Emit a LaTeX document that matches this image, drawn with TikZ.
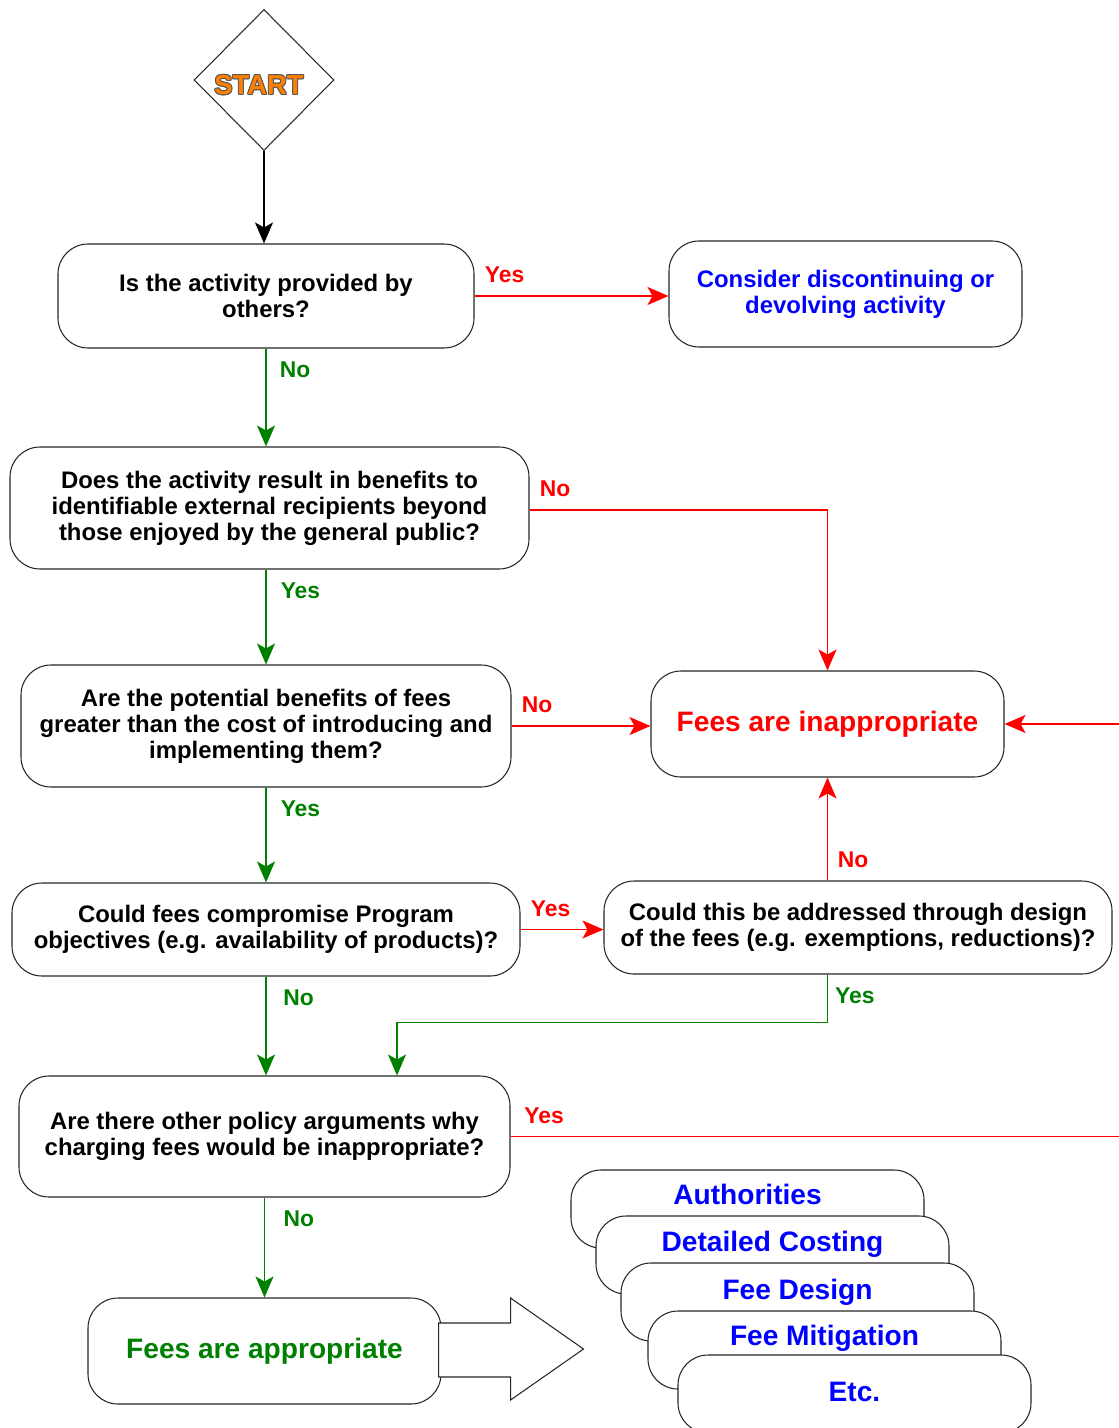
\documentclass[tikz,border=0pt]{standalone}
\usepackage{fontspec}
\setmainfont{Liberation Sans}
\usetikzlibrary{shapes.geometric, arrows.meta, calc}

\definecolor{flowred}{RGB}{255,0,0}
\definecolor{flowgreen}{RGB}{0,128,0}
\definecolor{flowblue}{RGB}{0,0,255}
\definecolor{startorange}{RGB}{255,128,0}

\begin{document}
\begin{tikzpicture}[>={Stealth[length=0.42cm, width=0.36cm, inset=0.1cm]}]
    % common styles
    \tikzstyle{node_q} = [rectangle, rounded corners=0.6cm, draw=black!85, line width=0.6pt, fill=white, align=center, inner sep=2pt, font=\fontsize{13.6}{14.8}\selectfont\bfseries]
    \tikzstyle{node_end} = [node_q, minimum width=7.06cm, minimum height=2.12cm, font=\fontsize{16}{18}\selectfont\bfseries]
    \tikzstyle{node_tab} = [node_q, minimum width=7.06cm, minimum height=1.56cm]
    \tikzstyle{tab_text} = [anchor=base, inner sep=0, text=flowblue, font=\fontsize{16}{18}\selectfont\bfseries]
    \tikzstyle{arrow_red} = [->, line width=0.8pt, flowred]
    \tikzstyle{arrow_green} = [->, line width=0.8pt, flowgreen]
    \tikzstyle{lbl_h} = [at start, anchor=west, inner sep=0, xshift=5.5pt, yshift=12pt, font=\fontsize{13}{15}\selectfont\bfseries]
    \tikzstyle{lbl_v} = [at start, anchor=west, inner sep=0, xshift=8pt, yshift=-12pt, font=\fontsize{13}{15}\selectfont\bfseries]

    \useasboundingbox (0,0) rectangle (22.36,-28.56);

    % ================= start =================
    \node[diamond, draw=black!85, line width=0.6pt, minimum width=2.8cm, minimum height=2.82cm, inner sep=0] (start) at (5.28,-1.6) {};
    \foreach \dx/\dy [count=\k] in {0.6/0, -0.6/0, 0/0.6, 0/-0.6, 0.45/0.45, 0.45/-0.45, -0.45/0.45, -0.45/-0.45} {
        \node[text=black!65, font=\fontsize{15.6}{17}\selectfont\bfseries] (startrim\k) at ($(start)+(-0.1,-0.1)+(\dx pt,\dy pt)$) {START};
    }
    \node[text=startorange, font=\fontsize{15.6}{17}\selectfont\bfseries] (starttxt) at ($(start)+(-0.1,-0.1)$) {START};

    % ================= questions =================
    \node[node_q, minimum width=8.32cm, minimum height=2.08cm] (q1) at (5.32,-5.92) {Is the activity provided by\\others?};
    \node[node_q, minimum width=7.06cm, minimum height=2.12cm, text=flowblue] (consider) at (16.91,-5.88) {Consider discontinuing or\\devolving activity};
    \node[node_q, minimum width=10.38cm, minimum height=2.44cm] (q2) at (5.39,-10.16) {Does the activity result in benefits to\\identifiable external recipients beyond\\those enjoyed by the general public?};
    \node[node_q, minimum width=9.8cm, minimum height=2.44cm] (q3) at (5.32,-14.52) {Are the potential benefits of fees\\greater than the cost of introducing and\\implementing them?};
    \node[node_end, text=flowred] (inapp) at (16.55,-14.48) {\raisebox{-1.5pt}{Fees are inappropriate}};
    \node[node_q, minimum width=10.16cm, minimum height=1.86cm] (q4) at (5.32,-18.59) {Could fees compromise Program\\objectives (e.g. availability of products)?};
    \node[node_q, minimum width=10.16cm, minimum height=1.86cm] (q5) at (17.16,-18.55) {Could this be addressed through design\\of the fees (e.g. exemptions, reductions)?};
    \node[node_q, minimum width=9.82cm, minimum height=2.42cm] (q6) at (5.29,-22.73) {Are there other policy arguments why\\charging fees would be inappropriate?};
    \node[node_end, text=flowgreen] (app) at (5.29,-27.02) {Fees are appropriate};

    % page edge, where the lines leave the picture
    \coordinate (rim) at (22.4,0);
    \coordinate (q6in) at ($(q6.north)+(2.65,0)$);

    % ================= connectors =================
    \draw[->, line width=0.6pt, black] (start.south) -- (start.south |- q1.north);
    \draw[arrow_red] (q1.east) -- node[lbl_h, text=flowred] (l1) {Yes} (q1.east -| consider.west);
    \draw[arrow_green] (q1.south) -- node[lbl_v, text=flowgreen, xshift=-0.5pt] (l2) {No} (q1.south |- q2.north);
    \draw[arrow_red] ([yshift=-0.04cm]q2.east) -- node[lbl_h, text=flowred] (l3) {No} ([yshift=-0.04cm]q2.east -| inapp.north) -- (inapp.north);
    \draw[arrow_green] (q3.north |- q2.south) -- node[lbl_v, text=flowgreen] (l4) {Yes} (q3.north);
    \draw[arrow_red] (q3.east) -- node[lbl_h, text=flowred] (l5) {No} (q3.east -| inapp.west);
    \draw[arrow_green] (q3.south) -- node[lbl_v, text=flowgreen] (l6) {Yes} (q3.south |- q4.north);
    \draw[arrow_red] (q4.east) -- node[lbl_h, text=flowred] (l7) {Yes} (q4.east -| q5.west);
    \draw[arrow_red] (q5.north -| inapp.south) -- node[lbl_h, text=flowred] (l8) {No} (inapp.south);
    \draw[arrow_green] (q5.south -| inapp.south) -- node[lbl_v, text=flowgreen, xshift=-4pt] (l9) {Yes} ++(0,-0.96) -| (q6in);
    \draw[arrow_green] (q4.south) -- node[lbl_v, text=flowgreen, xshift=1.5pt] (l10) {No} (q4.south |- q6.north);
    \draw[line width=0.8pt, flowred] (q6.east) -- node[lbl_h, text=flowred, xshift=2pt] (l11) {Yes} (q6.east -| rim);
    \draw[arrow_red] (rim |- inapp.east) -- (inapp.east);
    \draw[arrow_green] (q6.south) -- node[lbl_v, text=flowgreen, xshift=2.5pt] (l12) {No} (q6.south |- app.north);

    % ================= next steps =================
    \draw[fill=white, draw=black!85, line width=0.6pt] ([xshift=-0.06cm, yshift=0.56cm]app.east) -- ++(1.44,0) -- ++(0,0.5) -- ++(1.46,-1.02) -- ++(-1.46,-1.02) -- ++(0,0.46) -- ++(-1.44,0) -- cycle;

    \foreach \nm/\txt/\cx/\cy/\dy in {auth/Authorities/14.95/-24.18/0.7, cost/Detailed Costing/15.45/-25.10/0.72, design/Fee Design/15.95/-26.04/0.74, mitig/Fee Mitigation/16.49/-27.00/0.7, etc/Etc./17.09/-27.88/0.94} {
        \node[node_tab] (\nm) at (\cx,\cy) {};
        \node[tab_text] (\nm txt) at ([yshift=-\dy cm]\nm.north) {\txt};
    }

\end{tikzpicture}
\end{document}
